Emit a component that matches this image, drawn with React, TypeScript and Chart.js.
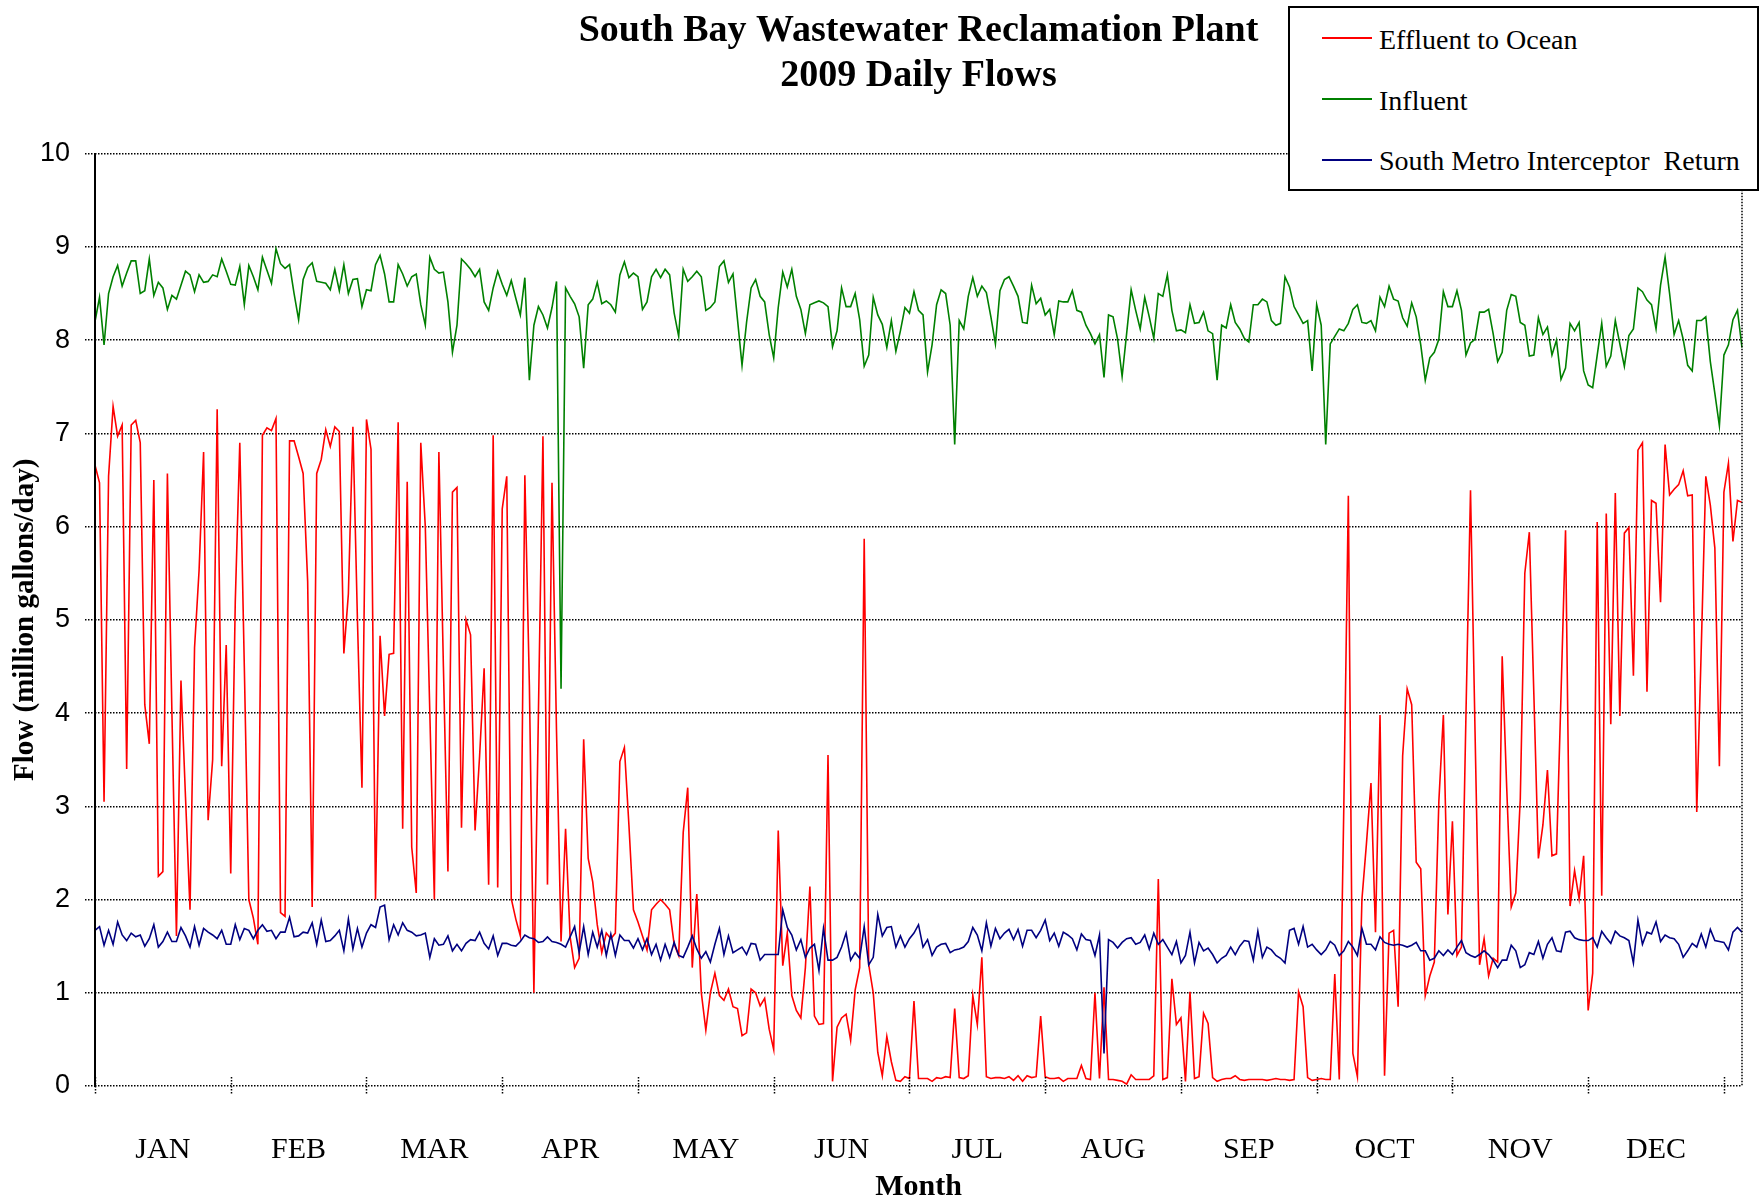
import React, { useEffect, useRef } from 'react';
import { Chart, registerables } from 'chart.js';

Chart.register(...registerables);

// ---------- data ----------
const TITLE_LINES = ['South Bay Wastewater Reclamation Plant', '2009 Daily Flows'];
const MONTHS = ['JAN', 'FEB', 'MAR', 'APR', 'MAY', 'JUN', 'JUL', 'AUG', 'SEP', 'OCT', 'NOV', 'DEC'];
const TICK_EVERY = 30;
const Y_MIN = 0;
const Y_MAX = 10;
const Y_STEP = 1;
const SERIES_NAMES = ['Effluent to Ocean', 'Influent', 'South Metro Interceptor  Return'];
const SERIES_COLORS = ['#ff0000', '#008000', '#000080'];

const DAY_LABELS: string[] = Array.from({ length: 365 }, (_, i) =>
  new Date(Date.UTC(2009, 0, 1 + i)).toISOString().slice(0, 10)
);

// Effluent to Ocean (MGD)
const EFFLUENT = [
  6.66, 6.47, 3.05, 6.54, 7.29, 6.97, 7.09, 3.4, 7.09, 7.14, 6.9, 4.09, 3.67, 6.5, 2.25, 2.3, 6.57, 4.0, 1.61, 4.35, 3.1, 1.89, 4.7, 5.53, 6.8, 2.85, 3.5, 7.26, 3.43, 4.73, 2.28, 5.19, 6.9, 4.5, 2.0, 1.8, 1.52,
  6.98, 7.06, 7.03, 7.16, 1.86, 1.82, 6.92, 6.92, 6.75, 6.57, 5.41, 1.92, 6.57, 6.72, 7.04, 6.86, 7.07, 7.02, 4.64, 5.28, 7.07, 5.0, 3.2, 7.15, 6.83, 2.0, 4.83, 3.97, 4.63, 4.64, 7.12, 2.76, 6.48, 2.56, 2.07, 6.9, 6.0,
  4.0, 2.0, 6.8, 4.5, 2.3, 6.37, 6.42, 2.77, 5.0, 4.84, 2.74, 3.54, 4.48, 2.16, 6.98, 2.13, 6.19, 6.54, 2.01, 1.79, 1.61, 6.55, 4.3, 1.0, 4.0, 6.97, 2.16, 6.47, 3.8, 1.55, 2.76, 1.6, 1.27, 1.37, 3.72, 2.44,
  2.19, 1.73, 1.43, 1.64, 1.58, 1.64, 3.48, 3.63, 2.8, 1.89, 1.76, 1.61, 1.46, 1.89, 1.95, 2.0, 1.95, 1.89, 1.52, 1.4, 2.72, 3.2, 1.27, 2.06, 1.0, 0.6, 1.0, 1.21, 0.97, 0.92, 1.04, 0.85, 0.83, 0.54, 0.57, 1.04, 1.0,
  0.86, 0.94, 0.61, 0.39, 2.74, 1.29, 1.64, 0.97, 0.81, 0.73, 1.27, 2.14, 0.75, 0.66, 0.67, 3.55, 0.05, 0.63, 0.73, 0.77, 0.49, 1.03, 1.27, 5.87, 1.3, 1.0, 0.36, 0.11, 0.53, 0.26, 0.06, 0.05, 0.1, 0.08, 0.91, 0.08,
  0.08, 0.08, 0.05, 0.09, 0.08, 0.1, 0.09, 0.83, 0.09, 0.08, 0.11, 0.97, 0.66, 1.38, 0.1, 0.08, 0.09, 0.09, 0.08, 0.1, 0.06, 0.11, 0.05, 0.11, 0.09, 0.1, 0.75, 0.1, 0.08, 0.08, 0.09, 0.05, 0.08, 0.08, 0.08, 0.22, 0.08,
  0.07, 1.0, 0.08, 1.06, 0.07, 0.07, 0.06, 0.05, 0.02, 0.12, 0.07, 0.07, 0.07, 0.07, 0.11, 2.22, 0.07, 0.09, 1.15, 0.66, 0.73, 0.05, 1.01, 0.08, 0.1, 0.78, 0.67, 0.09, 0.05, 0.07, 0.08, 0.08, 0.11, 0.07, 0.06, 0.07,
  0.07, 0.07, 0.07, 0.06, 0.07, 0.08, 0.07, 0.07, 0.06, 0.07, 1.01, 0.85, 0.09, 0.06, 0.07, 0.08, 0.07, 0.07, 1.2, 0.07, 3.0, 6.33, 0.35, 0.1, 2.0, 2.6, 3.25, 1.65, 3.98, 0.11, 1.64, 1.67, 0.85, 3.54, 4.26, 4.09, 2.4,
  2.33, 0.97, 1.18, 1.33, 3.05, 3.98, 1.84, 2.84, 1.4, 1.49, 4.0, 6.39, 3.8, 1.3, 1.58, 1.18, 1.37, 1.33, 4.61, 3.2, 1.92, 2.07, 3.08, 5.5, 5.94, 4.2, 2.44, 2.8, 3.39, 2.47, 2.49, 4.2, 5.96, 1.93, 2.31, 2.01,
  2.47, 0.81, 1.21, 6.05, 2.04, 6.14, 3.88, 6.36, 3.97, 5.93, 5.99, 4.4, 6.82, 6.9, 4.23, 6.28, 6.25, 5.19, 6.88, 6.34, 6.4, 6.45, 6.6, 6.33, 6.34, 2.94, 4.7, 6.54, 6.23, 5.77, 3.43, 6.37, 6.68, 5.84, 6.28, 6.26,
];

// Influent (MGD)
const INFLUENT = [
  8.2, 8.46, 7.95, 8.5, 8.68, 8.8, 8.58, 8.72, 8.85, 8.85, 8.5, 8.53, 8.87, 8.48, 8.62, 8.56, 8.33, 8.48, 8.44, 8.59, 8.74, 8.7, 8.52, 8.7, 8.62, 8.63, 8.7, 8.68, 8.87, 8.74, 8.6, 8.59, 8.79, 8.38, 8.8, 8.68, 8.54,
  8.89, 8.75, 8.61, 8.98, 8.82, 8.77, 8.81, 8.5, 8.22, 8.65, 8.78, 8.83, 8.63, 8.62, 8.61, 8.54, 8.76, 8.53, 8.81, 8.5, 8.65, 8.66, 8.36, 8.54, 8.53, 8.81, 8.91, 8.71, 8.41, 8.41, 8.81, 8.71, 8.58, 8.68, 8.71, 8.38, 8.16,
  8.89, 8.76, 8.72, 8.73, 8.41, 7.87, 8.16, 8.87, 8.82, 8.76, 8.68, 8.76, 8.41, 8.32, 8.56, 8.74, 8.6, 8.48, 8.64, 8.45, 8.27, 8.67, 7.57, 8.16, 8.36, 8.27, 8.13, 8.35, 8.63, 4.26, 8.56, 8.47, 8.39, 8.25, 7.7, 8.38,
  8.44, 8.62, 8.39, 8.42, 8.38, 8.3, 8.7, 8.84, 8.67, 8.72, 8.68, 8.33, 8.41, 8.68, 8.76, 8.67, 8.76, 8.7, 8.29, 8.04, 8.76, 8.63, 8.68, 8.74, 8.68, 8.32, 8.35, 8.41, 8.79, 8.85, 8.62, 8.71, 8.22, 7.73, 8.19, 8.56, 8.65,
  8.47, 8.41, 8.06, 7.81, 8.35, 8.73, 8.57, 8.76, 8.47, 8.33, 8.07, 8.38, 8.4, 8.42, 8.4, 8.36, 7.93, 8.1, 8.56, 8.36, 8.36, 8.5, 8.22, 7.72, 7.84, 8.46, 8.27, 8.17, 7.92, 8.21, 7.88, 8.1, 8.35, 8.29, 8.52, 8.32,
  8.27, 7.66, 7.95, 8.38, 8.54, 8.5, 8.16, 6.88, 8.21, 8.12, 8.47, 8.67, 8.47, 8.58, 8.51, 8.25, 7.96, 8.53, 8.65, 8.68, 8.58, 8.47, 8.19, 8.18, 8.59, 8.39, 8.45, 8.27, 8.33, 8.06, 8.42, 8.41, 8.41, 8.53, 8.32, 8.3, 8.16,
  8.07, 7.96, 8.06, 7.6, 8.27, 8.25, 8.01, 7.61, 8.07, 8.54, 8.32, 8.12, 8.46, 8.25, 8.02, 8.5, 8.47, 8.7, 8.32, 8.1, 8.11, 8.08, 8.38, 8.18, 8.19, 8.3, 8.1, 8.07, 7.57, 8.16, 8.13, 8.38, 8.19, 8.12, 8.02, 7.98,
  8.38, 8.38, 8.44, 8.41, 8.21, 8.16, 8.18, 8.68, 8.57, 8.36, 8.27, 8.18, 8.21, 7.67, 8.38, 8.16, 6.88, 7.96, 8.04, 8.12, 8.1, 8.18, 8.33, 8.38, 8.19, 8.18, 8.21, 8.1, 8.46, 8.36, 8.58, 8.44, 8.42, 8.24, 8.15, 8.4, 8.25,
  7.95, 7.57, 7.81, 7.87, 8.01, 8.52, 8.36, 8.36, 8.53, 8.32, 7.84, 7.97, 8.01, 8.3, 8.3, 8.33, 8.07, 7.77, 7.87, 8.32, 8.49, 8.47, 8.19, 8.16, 7.83, 7.84, 8.24, 8.06, 8.14, 7.84, 8.0, 7.58, 7.7, 8.18, 8.1, 8.19,
  7.67, 7.52, 7.49, 7.84, 8.18, 7.72, 7.83, 8.21, 7.96, 7.72, 8.05, 8.12, 8.56, 8.52, 8.43, 8.38, 8.12, 8.59, 8.89, 8.5, 8.06, 8.21, 8.01, 7.73, 7.67, 8.21, 8.21, 8.25, 7.77, 7.43, 7.08, 7.84, 7.95, 8.22, 8.32, 7.92,
];

// South Metro Interceptor Return (MGD)
const SMI_RETURN = [
  1.67, 1.71, 1.51, 1.67, 1.52, 1.76, 1.62, 1.56, 1.64, 1.6, 1.62, 1.5, 1.58, 1.73, 1.49, 1.55, 1.65, 1.55, 1.55, 1.7, 1.61, 1.49, 1.71, 1.51, 1.69, 1.65, 1.62, 1.58, 1.67, 1.52, 1.52, 1.73, 1.57, 1.69, 1.67, 1.58, 1.67,
  1.73, 1.66, 1.67, 1.58, 1.65, 1.65, 1.81, 1.6, 1.61, 1.65, 1.64, 1.75, 1.52, 1.78, 1.55, 1.56, 1.61, 1.67, 1.45, 1.79, 1.47, 1.69, 1.49, 1.64, 1.73, 1.7, 1.92, 1.94, 1.57, 1.73, 1.62, 1.75, 1.67, 1.65, 1.61, 1.62, 1.64,
  1.38, 1.58, 1.51, 1.52, 1.61, 1.45, 1.52, 1.45, 1.53, 1.57, 1.56, 1.65, 1.53, 1.47, 1.61, 1.4, 1.53, 1.53, 1.51, 1.5, 1.55, 1.62, 1.59, 1.58, 1.54, 1.55, 1.6, 1.55, 1.54, 1.52, 1.49, 1.6, 1.71, 1.43, 1.71, 1.41,
  1.65, 1.49, 1.67, 1.4, 1.63, 1.4, 1.62, 1.56, 1.56, 1.48, 1.58, 1.46, 1.58, 1.41, 1.52, 1.35, 1.52, 1.38, 1.54, 1.4, 1.38, 1.49, 1.61, 1.47, 1.37, 1.44, 1.33, 1.52, 1.69, 1.41, 1.61, 1.43, 1.46, 1.49, 1.41, 1.53, 1.52,
  1.35, 1.41, 1.41, 1.41, 1.41, 1.89, 1.7, 1.62, 1.46, 1.57, 1.38, 1.48, 1.52, 1.24, 1.69, 1.35, 1.35, 1.38, 1.49, 1.64, 1.35, 1.43, 1.37, 1.71, 1.3, 1.38, 1.84, 1.61, 1.7, 1.71, 1.49, 1.61, 1.49, 1.58, 1.64, 1.73,
  1.49, 1.57, 1.4, 1.49, 1.52, 1.53, 1.43, 1.46, 1.47, 1.49, 1.55, 1.7, 1.62, 1.45, 1.75, 1.5, 1.69, 1.58, 1.64, 1.68, 1.57, 1.68, 1.5, 1.67, 1.67, 1.59, 1.67, 1.78, 1.56, 1.64, 1.5, 1.65, 1.62, 1.58, 1.46, 1.63, 1.57,
  1.56, 1.4, 1.62, 0.35, 1.57, 1.54, 1.48, 1.54, 1.58, 1.59, 1.52, 1.54, 1.62, 1.47, 1.64, 1.52, 1.57, 1.49, 1.41, 1.55, 1.32, 1.4, 1.65, 1.32, 1.54, 1.45, 1.48, 1.41, 1.32, 1.37, 1.4, 1.49, 1.41, 1.5, 1.56, 1.55,
  1.35, 1.66, 1.38, 1.49, 1.46, 1.4, 1.37, 1.32, 1.67, 1.69, 1.52, 1.71, 1.49, 1.52, 1.46, 1.41, 1.46, 1.55, 1.51, 1.4, 1.45, 1.55, 1.49, 1.4, 1.69, 1.52, 1.52, 1.46, 1.6, 1.54, 1.52, 1.51, 1.52, 1.51, 1.49, 1.51, 1.54,
  1.45, 1.45, 1.35, 1.37, 1.45, 1.4, 1.46, 1.41, 1.49, 1.56, 1.43, 1.4, 1.38, 1.41, 1.45, 1.41, 1.35, 1.27, 1.35, 1.35, 1.51, 1.45, 1.27, 1.3, 1.43, 1.41, 1.55, 1.37, 1.52, 1.59, 1.45, 1.44, 1.65, 1.66, 1.59, 1.57,
  1.56, 1.56, 1.59, 1.49, 1.66, 1.59, 1.53, 1.66, 1.61, 1.59, 1.56, 1.32, 1.78, 1.52, 1.65, 1.63, 1.76, 1.55, 1.62, 1.59, 1.58, 1.52, 1.38, 1.45, 1.53, 1.49, 1.63, 1.49, 1.68, 1.56, 1.55, 1.54, 1.46, 1.65, 1.7, 1.65,
];

const SERIES_VALUES = [EFFLUENT, INFLUENT, SMI_RETURN];

// ---------- styling ----------
const SERIF = '"Liberation Serif", "Times New Roman", Times, serif';
const SANS = '"Liberation Sans", Arial, Helvetica, sans-serif';

const framePlugin = {
  id: 'frame',
  afterDatasetsDraw(chart: any) {
    const { ctx, chartArea: a, scales } = chart;
    const xs = scales.x;
    ctx.save();
    ctx.strokeStyle = '#000';
    ctx.lineWidth = 1.5;
    ctx.setLineDash([1.5, 1.5]);
    ctx.beginPath();
    ctx.moveTo(a.right, a.top);
    ctx.lineTo(a.right, a.bottom);
    for (let i = 0; i < DAY_LABELS.length; i += TICK_EVERY) {
      const x = Math.round(xs.getPixelForValue(i)) + 0.5;
      ctx.moveTo(x, a.bottom - 9);
      ctx.lineTo(x, a.bottom + 9);
    }
    ctx.stroke();
    ctx.setLineDash([]);
    ctx.lineWidth = 2;
    ctx.beginPath();
    ctx.moveTo(a.left, a.top);
    ctx.lineTo(a.left, a.bottom + 1);
    ctx.stroke();
    ctx.restore();
  },
};

function Legend() {
  const rows = [29, 90, 151];
  const textTops = [18, 79, 139];
  return (
    <div
      style={{
        position: 'absolute',
        left: 1288,
        top: 6,
        width: 471,
        height: 185,
        boxSizing: 'border-box',
        border: '2px solid #000',
        background: '#fff',
      }}
    >
      {SERIES_NAMES.map((name, i) => (
        <React.Fragment key={name}>
          <div
            style={{
              position: 'absolute',
              left: 32,
              top: rows[i],
              width: 50,
              height: 2,
              background: SERIES_COLORS[i],
            }}
          />
          <div
            style={{
              position: 'absolute',
              left: 89,
              top: textTops[i],
              fontFamily: SERIF,
              fontSize: 28,
              lineHeight: '28px',
              color: '#000',
              whiteSpace: 'pre',
            }}
          >
            {name}
          </div>
        </React.Fragment>
      ))}
    </div>
  );
}

export default function App() {
  const canvasRef = useRef<HTMLCanvasElement | null>(null);

  useEffect(() => {
    if (!canvasRef.current) return;
    const chart = new Chart(canvasRef.current, {
      type: 'line',
      data: {
        labels: DAY_LABELS,
        datasets: SERIES_NAMES.map((name, i) => ({
          label: name,
          data: SERIES_VALUES[i],
          borderColor: SERIES_COLORS[i],
          backgroundColor: SERIES_COLORS[i],
          borderWidth: 1.6,
          pointRadius: 0,
          tension: 0,
          fill: false,
          order: SERIES_NAMES.length - i,
        })),
      },
      options: {
        responsive: false,
        animation: false,
        devicePixelRatio: 1,
        events: [],
        layout: { padding: { top: 0, right: 18, bottom: 0, left: 0 } },
        plugins: {
          legend: { display: false },
          tooltip: { enabled: false },
          title: {
            display: true,
            text: TITLE_LINES,
            fullSize: false,
            color: '#000',
            font: { family: SERIF, size: 38, weight: 'bold', lineHeight: 1.18 },
            padding: { top: 9, bottom: 55 },
          },
        },
        scales: {
          x: {
            type: 'category',
            offset: false,
            grid: { display: false, drawTicks: false },
            border: { display: false },
            ticks: {
              autoSkip: false,
              maxRotation: 0,
              minRotation: 0,
              padding: 46,
              color: '#000',
              font: { family: SERIF, size: 30 },
              callback: (_v: any, index: number) =>
                index % TICK_EVERY === TICK_EVERY / 2 && index / TICK_EVERY < MONTHS.length
                  ? MONTHS[Math.floor(index / TICK_EVERY)]
                  : '',
            },
            title: {
              display: true,
              text: 'Month',
              color: '#000',
              font: { family: SERIF, size: 30, weight: 'bold', lineHeight: 1.1 },
              padding: { top: 0, bottom: 0 },
            },
            afterFit: (s: any) => {
              s.height = 118;
              s.paddingLeft = 0;
              s.paddingRight = 0;
            },
          },
          y: {
            min: Y_MIN,
            max: Y_MAX,
            ticks: {
              stepSize: Y_STEP,
              padding: 15,
              color: '#000',
              font: { family: SANS, size: 27 },
            },
            grid: {
              color: '#000',
              lineWidth: 1.5,
              tickLength: 10,
              tickColor: '#000',
              tickWidth: 1.5,
              tickBorderDash: [1.5, 1.5],
            },
            border: { display: false, dash: [1.5, 1.5] },
            title: {
              display: true,
              text: 'Flow (million gallons/day)',
              color: '#000',
              font: { family: SERIF, size: 29, weight: 'bold', lineHeight: 1.2 },
              padding: { top: 8, bottom: 0 },
            },
            afterFit: (s: any) => {
              s.width = 95;
            },
          },
        },
      } as any,
      plugins: [framePlugin],
    });
    return () => chart.destroy();
  }, []);

  return (
    <div
      style={{
        position: 'absolute',
        left: 0,
        top: 0,
        width: 1760,
        height: 1204,
        background: '#fff',
        overflow: 'hidden',
      }}
    >
      <canvas ref={canvasRef} width={1760} height={1204} style={{ display: 'block', width: 1760, height: 1204 }} />
      <Legend />
    </div>
  );
}
